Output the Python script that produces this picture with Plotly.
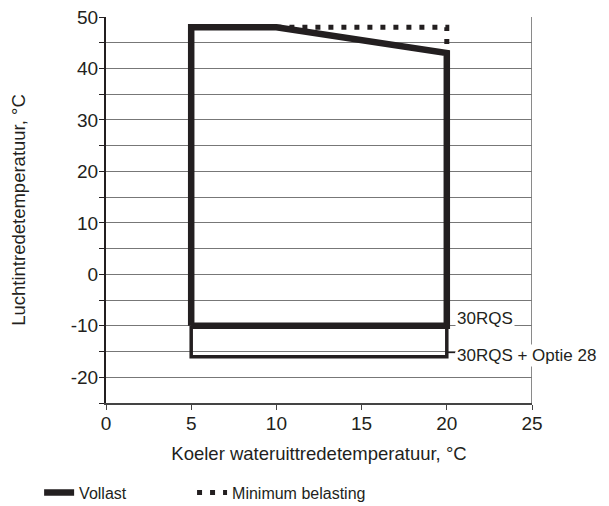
import plotly.graph_objects as go

# Data
vollast_x = [5, 5, 10, 20, 20, 5]
vollast_y = [-10, 48, 48, 43, -10, -10]
optie28_x = [5, 5, 20, 20]
optie28_y = [-10, -16, -16, -10]
minimum_x = [10, 20, 20]
minimum_y = [48, 48, 43]
x_ticks = [0, 5, 10, 15, 20, 25]
y_ticks = [-20, -10, 0, 10, 20, 30, 40, 50]
y_tick_labels = ["-20", "-10", "0", "10", "20", "30", "40", "50"]
label_30rqs = "30RQS"
label_optie = "30RQS + Optie 28"

FONT = "Liberation Sans, Arial, sans-serif"
INK = "#231f20"

fig = go.Figure()
fig.add_trace(go.Scatter(x=minimum_x, y=minimum_y, mode="lines", name="Minimum belasting",
                         line=dict(color=INK, width=5, dash="5px,8px"), showlegend=True,
                         legend="legend2"))
fig.add_trace(go.Scatter(x=optie28_x, y=optie28_y, mode="lines", showlegend=False,
                         line=dict(color=INK, width=3.5)))
fig.add_trace(go.Scatter(x=[20, 20.5], y=[-15.2, -15.2], mode="lines", showlegend=False,
                         line=dict(color=INK, width=1.2)))
fig.add_trace(go.Scatter(x=vollast_x, y=vollast_y, mode="lines", name="Vollast",
                         line=dict(color=INK, width=6.5), legend="legend"))

# right border
fig.add_shape(type="line", x0=25, x1=25, y0=-25, y1=50, xref="x", yref="y",
              line=dict(color="#8a8a8a", width=2), layer="below")

fig.add_annotation(x=20.5, y=-8.6, text=label_30rqs, showarrow=False, xanchor="left",
                   yanchor="middle", bgcolor="white", font=dict(family=FONT, size=17, color=INK),
                   borderpad=1)
fig.add_annotation(x=20.5, y=-15.8, text=label_optie, showarrow=False, xanchor="left",
                   yanchor="middle", bgcolor="white", font=dict(family=FONT, size=17, color=INK),
                   borderpad=1)

legend_common = dict(orientation="h", xanchor="left", y=-0.232, yanchor="middle",
                     font=dict(size=16, color=INK), bgcolor="rgba(0,0,0,0)")

# page body has an 8px margin, so the figure is sized and offset to compensate
fig.update_layout(
    width=601, height=498,
    margin=dict(l=98, r=77, t=9, b=103, autoexpand=False),
    paper_bgcolor="white", plot_bgcolor="white",
    font=dict(family=FONT, size=18, color=INK),
    showlegend=True,
    legend=dict(x=-0.157, **legend_common),
    legend2=dict(x=0.202, **legend_common),
)
fig.update_xaxes(range=[0, 25], tickvals=x_ticks, ticks="outside", ticklen=5, tickcolor="#444",
                 showline=True, linecolor="#444", linewidth=2, showgrid=False, zeroline=False,
                 automargin=False, ticklabeloverflow="allow", ticklabelstandoff=-3,
                 title=dict(text="Koeler wateruittredetemperatuur, °C", standoff=14,
                            font=dict(size=18.5)),
                 tickfont=dict(size=19))
fig.update_yaxes(range=[-25, 50], tickvals=y_ticks, ticktext=y_tick_labels, ticks="outside",
                 ticklen=5, tickcolor=INK,
                 showline=True, linecolor=INK, linewidth=2, showgrid=True, gridcolor="#777",
                 gridwidth=1, zeroline=False, automargin=False, ticklabeloverflow="allow",
                 ticklabelstandoff=-3,
                 minor=dict(dtick=5, tick0=0, ticks="outside", ticklen=5, tickcolor=INK,
                            showgrid=True, gridcolor="#777", gridwidth=1),
                 title=dict(text="Luchtintredetemperatuur, °C", standoff=46, font=dict(size=18.5)),
                 tickfont=dict(size=19))

fig.write_html("out.html")
